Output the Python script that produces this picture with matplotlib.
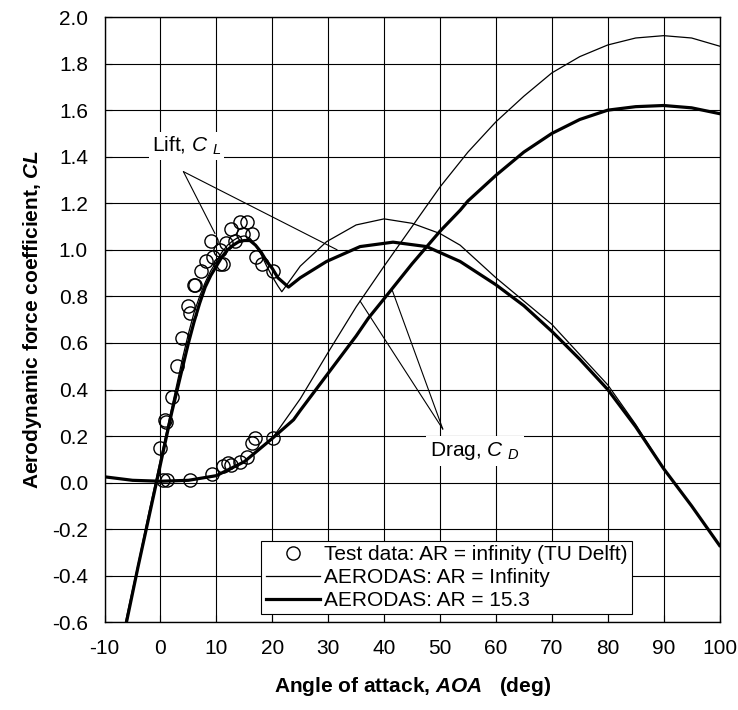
import matplotlib
matplotlib.use("Agg")
import matplotlib.pyplot as plt
import numpy as np

plt.rcParams['font.family'] = ['Liberation Sans', 'DejaVu Sans']
plt.rcParams['mathtext.fontset'] = 'custom'
plt.rcParams['mathtext.rm'] = 'Liberation Sans'
plt.rcParams['mathtext.it'] = 'Liberation Sans:italic'
plt.rcParams['mathtext.bf'] = 'Liberation Sans:bold'
plt.rcParams['mathtext.bfit'] = 'Liberation Sans:bold:italic'
plt.rcParams['axes.unicode_minus'] = False

# Test data (TU Delft), lift
test_cl_aoa = [0.0, 0.8, 1.0, 2.0, 2.9, 3.8, 5.0, 5.2, 6.0, 6.2, 7.2, 8.1, 9.0, 9.4, 10.6, 10.6, 11.2,
               11.8, 12.7, 13.3, 14.2, 14.8, 15.4, 16.3, 17.1, 18.1, 20.2]
test_cl = [0.15, 0.27, 0.26, 0.37, 0.50, 0.62, 0.76, 0.73, 0.85, 0.85, 0.91, 0.95, 1.04, 0.97, 0.94, 1.00, 0.94,
           1.03, 1.09, 1.04, 1.12, 1.07, 1.12, 1.07, 0.97, 0.94, 0.91]
# Test data, drag
test_cd_aoa = [0.5, 1.1, 5.2, 9.2, 11.1, 12.0, 12.7, 14.2, 15.4, 16.3, 16.9, 20.1]
test_cd = [0.01, 0.01, 0.01, 0.035, 0.07, 0.085, 0.077, 0.09, 0.11, 0.17, 0.19, 0.19]

# AERODAS AR = infinity
inf_cl_aoa = [-8, -6, -4, -2, -1, 0, 1, 2, 3, 4, 5, 6, 7, 8, 9, 10, 11, 12, 13, 14, 15, 16, 17, 18, 19, 20, 21, 21.7,
              25, 29.7, 35, 40, 45, 50, 53.6, 60, 65, 70, 75, 80, 85, 90, 95, 100]
inf_cl = [-0.80, -0.57, -0.35, -0.12, -0.01, 0.10, 0.21, 0.32, 0.43, 0.54, 0.64, 0.73, 0.80, 0.86, 0.91, 0.95, 0.99,
          1.02, 1.04, 1.055, 1.06, 1.05, 1.02, 0.98, 0.93, 0.885, 0.845, 0.82,
          0.93, 1.035, 1.107, 1.133, 1.114, 1.07, 1.02, 0.88, 0.78, 0.68, 0.55, 0.42, 0.25, 0.06, -0.10, -0.27]
inf_cd_aoa = [-10, -5, 0, 5, 10, 15, 20, 25, 30, 35, 40, 45, 50, 55, 60, 65, 70, 75, 80, 85, 90, 95, 100]
inf_cd = [0.025, 0.01, 0.006, 0.01, 0.03, 0.09, 0.19, 0.36, 0.56, 0.755, 0.93, 1.10, 1.27, 1.42, 1.55, 1.66, 1.76,
          1.83, 1.88, 1.91, 1.92, 1.91, 1.875]

# AERODAS AR = 15.3
ar_cl_aoa = [-8, -6, -4, -2, -1, 0, 1, 2, 3, 4, 5, 6, 7, 8, 9, 10, 11, 12, 13, 14, 15, 16, 17, 18, 19, 20, 21, 22.9,
             25, 29.7, 35.7, 41.6, 47.6, 53.6, 60, 65, 70, 75, 80, 85, 90, 95, 100]
ar_cl = [-0.80, -0.59, -0.36, -0.14, -0.03, 0.08, 0.19, 0.30, 0.40, 0.50, 0.60, 0.69, 0.77, 0.84, 0.89, 0.93, 0.97,
         1.00, 1.02, 1.035, 1.04, 1.04, 1.02, 0.99, 0.95, 0.92, 0.88, 0.84,
         0.88, 0.95, 1.014, 1.033, 1.014, 0.95, 0.85, 0.76, 0.65, 0.53, 0.40, 0.24, 0.06, -0.10, -0.27]
ar_cd_aoa = [-10, -5, 0, 5, 10, 15, 20, 23.8, 25, 30, 35, 37.2, 40, 45, 50, 53.6, 55, 60, 65, 70, 75, 80, 85, 90, 95, 100]
ar_cd = [0.025, 0.01, 0.006, 0.01, 0.03, 0.09, 0.19, 0.27, 0.31, 0.47, 0.63, 0.707, 0.79, 0.94, 1.08, 1.17, 1.21,
         1.32, 1.42, 1.50, 1.56, 1.60, 1.615, 1.62, 1.61, 1.585]

x_ticks = list(range(-10, 101, 10))
y_ticks = [round(-0.6 + 0.2 * i, 1) for i in range(14)]

fig = plt.figure(figsize=(7.38, 7.10), dpi=100)
ax = fig.add_axes([0.1417, 0.1235, 0.8333, 0.8525])

ax.set_xlim(-10, 100)
ax.set_ylim(-0.6, 2.0)
ax.set_xticks(x_ticks)
ax.set_yticks(y_ticks)
ax.set_yticklabels([f"{v:.1f}" for v in y_ticks])
ax.grid(True, color='black', linewidth=0.8)
ax.set_axisbelow(True)
ax.tick_params(direction='in', length=5, width=0.8, labelsize=15, colors='black')
ax.tick_params(axis='x', pad=12)
ax.tick_params(axis='y', pad=12)
for s in ax.spines.values():
    s.set_linewidth(1.0)
    s.set_color('black')

ax.plot(test_cl_aoa, test_cl, 'o', mfc='none', mec='black', ms=9.5, mew=1.0,
        label='Test data: AR = infinity (TU Delft)', zorder=4)
ax.plot(test_cd_aoa, test_cd, 'o', mfc='none', mec='black', ms=9.5, mew=1.0, zorder=4)
ax.plot(inf_cl_aoa, inf_cl, color='black', lw=0.9, label='AERODAS: AR = Infinity', zorder=3)
ax.plot(inf_cd_aoa, inf_cd, color='black', lw=0.9, zorder=3)
ax.plot(ar_cl_aoa, ar_cl, color='black', lw=2.3, label='AERODAS: AR = 15.3', zorder=3)
ax.plot(ar_cd_aoa, ar_cd, color='black', lw=2.3, zorder=3)

# Annotations
ax.text(4.7, 1.445, r"Lift, $C$ $_{L}$", fontsize=15, ha='center', va='center',
        bbox=dict(facecolor='white', edgecolor='none', pad=2), zorder=5)
ax.annotate("", xy=(9.75, 1.07), xytext=(4.1, 1.336),
            arrowprops=dict(arrowstyle='-', color='black', lw=0.8, shrinkA=0, shrinkB=0), zorder=5)
ax.annotate("", xy=(31.6, 1.0), xytext=(4.1, 1.336),
            arrowprops=dict(arrowstyle='-', color='black', lw=0.8, shrinkA=0, shrinkB=0), zorder=5)

ax.text(56.3, 0.135, r"Drag, $C$ $_{D}$", fontsize=15, ha='center', va='center',
        bbox=dict(facecolor='white', edgecolor='none', pad=3), zorder=5)
ax.annotate("", xy=(35.7, 0.78), xytext=(50.5, 0.23),
            arrowprops=dict(arrowstyle='-', color='black', lw=0.8, shrinkA=0, shrinkB=0), zorder=5)
ax.annotate("", xy=(41.4, 0.83), xytext=(50.5, 0.23),
            arrowprops=dict(arrowstyle='-', color='black', lw=0.8, shrinkA=0, shrinkB=0), zorder=5)

leg = ax.legend(loc='lower right', bbox_to_anchor=(0.857, 0.013), fontsize=15, frameon=True,
                fancybox=False, edgecolor='black', framealpha=1, borderpad=0.2, labelspacing=0.2,
                handlelength=2.6, handletextpad=0.2, borderaxespad=0)
leg.get_frame().set_linewidth(0.8)
leg.set_zorder(6)

ax.set_ylabel(r"Aerodynamic force coefficient, $\mathbfit{CL}$", fontsize=15, fontweight='bold', labelpad=6)
ax.set_xlabel(r"Angle of attack, $\mathbfit{AOA}$   (deg)", fontsize=15, fontweight='bold', labelpad=12)

fig.savefig("out.png", dpi=100)
